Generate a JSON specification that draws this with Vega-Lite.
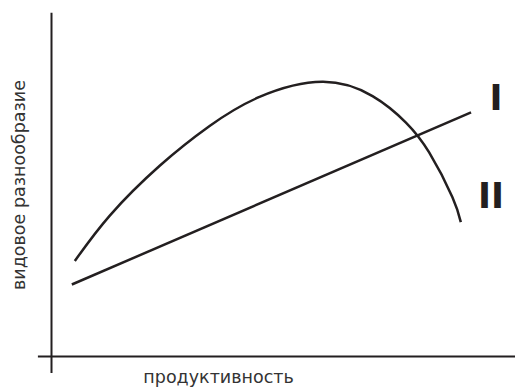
{
  "$schema": "https://vega.github.io/schema/vega-lite/v6.json",
  "width": 516,
  "height": 387,
  "autosize": {"type": "fit", "contains": "padding"},
  "padding": 0,
  "background": "white",
  "config": {"view": {"stroke": null}},
  "datasets": {
    "curves": [
      {"series": "II", "x": 4.53, "y": 26.8},
      {"series": "II", "x": 11.32, "y": 39.53},
      {"series": "II", "x": 21.01, "y": 53.49},
      {"series": "II", "x": 30.7, "y": 64.65},
      {"series": "II", "x": 40.39, "y": 72.8},
      {"series": "II", "x": 52.6, "y": 77.04},
      {"series": "II", "x": 62.34, "y": 73.02},
      {"series": "II", "x": 68.82, "y": 65.6},
      {"series": "II", "x": 73.33, "y": 57.23},
      {"series": "II", "x": 77.85, "y": 44.67},
      {"series": "II", "x": 79.48, "y": 37.69},
      {"series": "I", "x": 3.95, "y": 20.19},
      {"series": "I", "x": 81.47, "y": 68.47}
    ],
    "axes": [
      {"axis": "y", "x": 0, "x2": 0, "y": -4.65, "y2": 96.4},
      {"axis": "x", "x": -2.64, "x2": 90, "y": 0, "y2": 0}
    ],
    "marks": [
      {"label": "I", "x": 86.32, "y": 72.1},
      {"label": "II", "x": 85.35, "y": 44.75}
    ],
    "titles": [
      {"label": "продуктивность", "x": 32.44, "y": -6.05, "angle": 0},
      {"label": "видовое разнообразие", "x": -6.12, "y": 48.1, "angle": 270}
    ]
  },
  "layer": [
    {
      "data": {"name": "axes"},
      "mark": {"type": "rule", "color": "#231f20", "strokeWidth": 2},
      "encoding": {
        "x": {"field": "x", "type": "quantitative", "scale": {"domain": [-10, 90], "nice": false, "zero": false}, "axis": null},
        "x2": {"field": "x2"},
        "y": {"field": "y", "type": "quantitative", "scale": {"domain": [-8, 100], "nice": false, "zero": false}, "axis": null},
        "y2": {"field": "y2"}
      }
    },
    {
      "data": {"name": "curves"},
      "mark": {"type": "line", "color": "#231f20", "strokeWidth": 2.5, "interpolate": "natural"},
      "encoding": {
        "x": {"field": "x", "type": "quantitative", "scale": {"domain": [-10, 90], "nice": false, "zero": false}, "axis": null},
        "y": {"field": "y", "type": "quantitative", "scale": {"domain": [-8, 100], "nice": false, "zero": false}, "axis": null},
        "detail": {"field": "series"}
      }
    },
    {
      "data": {"name": "marks"},
      "mark": {"type": "text", "color": "#231f20", "font": "DejaVu Sans", "fontWeight": "bold", "fontSize": 35, "baseline": "middle", "align": "center"},
      "encoding": {
        "x": {"field": "x", "type": "quantitative", "scale": {"domain": [-10, 90], "nice": false, "zero": false}, "axis": null},
        "y": {"field": "y", "type": "quantitative", "scale": {"domain": [-8, 100], "nice": false, "zero": false}, "axis": null},
        "text": {"field": "label"}
      }
    },
    {
      "data": {"name": "titles"},
      "mark": {"type": "text", "color": "#333333", "font": "DejaVu Sans", "fontSize": 17.5, "baseline": "middle", "align": "center"},
      "encoding": {
        "x": {"field": "x", "type": "quantitative", "scale": {"domain": [-10, 90], "nice": false, "zero": false}, "axis": null},
        "y": {"field": "y", "type": "quantitative", "scale": {"domain": [-8, 100], "nice": false, "zero": false}, "axis": null},
        "text": {"field": "label"},
        "angle": {"field": "angle", "type": "quantitative", "scale": null}
      }
    }
  ]
}
